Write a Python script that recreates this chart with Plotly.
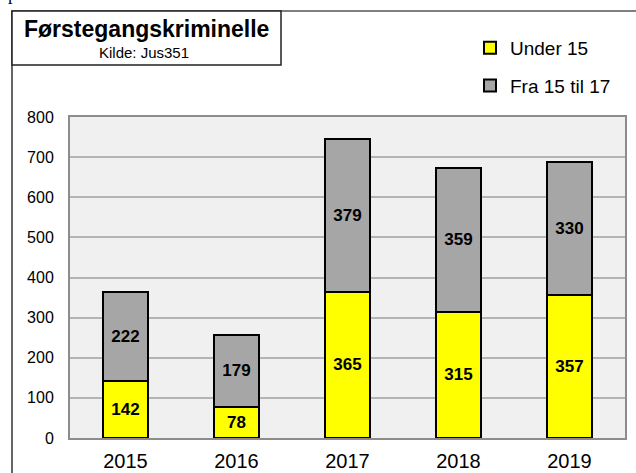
import plotly.graph_objects as go

years = ["2015", "2016", "2017", "2018", "2019"]
under15 = [142, 78, 365, 315, 357]
fra15til17 = [222, 179, 379, 359, 330]
y_ticks = [0, 100, 200, 300, 400, 500, 600, 700, 800]

W, H = 636, 473
L, R, T, B = 70, 625, 117, 438

def px(x):
    return (x - L) / (R - L)

def py(y):
    return (B - y) / (B - T)

label_font = dict(family="Arial", size=17, color="#000000", weight="bold")

fig = go.Figure()
fig.add_trace(go.Bar(
    x=years, y=under15, name="Under 15", legendgroup="a",
    marker=dict(color="#ffff00", line=dict(color="#000000", width=2)),
    text=under15, textposition="inside", insidetextanchor="middle",
    textfont=label_font,
))
fig.add_trace(go.Bar(
    x=years, y=fra15til17, name="Fra 15 til 17", legendgroup="b",
    marker=dict(color="#a6a6a6", line=dict(color="#000000", width=2)),
    text=fra15til17, textposition="inside", insidetextanchor="middle",
    textfont=label_font,
))

fig.update_layout(
    width=W, height=H,
    margin=dict(l=L, r=W - R, t=T, b=H - B, autoexpand=False),
    barmode="stack", bargap=0.595,
    paper_bgcolor="#ffffff", plot_bgcolor="#f0f0f0",
    font=dict(family="Arial", color="#000000"),
    uniformtext=dict(mode="show", minsize=10),
    legend=dict(
        x=px(470), y=py(29), xanchor="left", yanchor="top",
        traceorder="grouped", tracegroupgap=10,
        font=dict(family="Arial", size=19, color="#000000"),
        bgcolor="rgba(0,0,0,0)", itemwidth=30,
    ),
    xaxis=dict(
        tickfont=dict(family="Arial", size=20, color="#000000"),
        showline=True, linecolor="#8c8c8c", linewidth=2, mirror=True,
        ticks="", showgrid=False, ticklabelstandoff=4, automargin=False,
    ),
    yaxis=dict(
        range=[0, 800], tickvals=y_ticks,
        tickfont=dict(family="Arial", size=16, color="#000000"),
        showgrid=True, gridcolor="#b4b4b4", gridwidth=1.5,
        showline=True, linecolor="#8c8c8c", linewidth=2, mirror=True,
        ticks="", ticklabelstandoff=11, zeroline=False, automargin=False,
    ),
    shapes=[
        dict(type="rect", xref="paper", yref="paper",
             x0=px(12), x1=px(660), y0=py(11), y1=py(500),
             line=dict(color="#000000", width=1.2), layer="below"),
        dict(type="rect", xref="paper", yref="paper",
             x0=px(12), x1=px(281), y0=py(11), y1=py(65),
             line=dict(color="#222222", width=1.5), fillcolor="#ffffff", layer="below"),
    ],
    annotations=[
        dict(text="<b>Førstegangskriminelle</b>", xref="paper", yref="paper",
             x=px(146), y=py(29), xanchor="center", yanchor="middle",
             showarrow=False, font=dict(family="Arial", size=23, color="#000000")),
        dict(text="Kilde: Jus351", xref="paper", yref="paper",
             x=px(144), y=py(52), xanchor="center", yanchor="middle",
             showarrow=False, font=dict(family="Arial", size=15, color="#000000")),
        dict(text="p", xref="paper", yref="paper",
             x=px(12), y=py(-18), xanchor="center", yanchor="top",
             showarrow=False, font=dict(family="Liberation Serif", size=18, color="#000000")),
    ],
)

fig.write_html(
    "out.html",
    config={"displayModeBar": False},
    post_script="document.body.style.margin='0';document.body.style.overflow='hidden';",
)
